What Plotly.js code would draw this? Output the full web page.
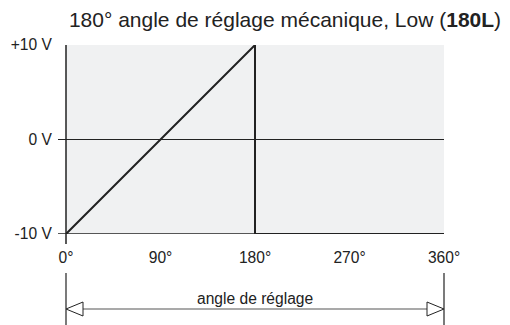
<!DOCTYPE html>
<html>
<head>
<meta charset="utf-8">
<script src="https://cdn.plot.ly/plotly-3.0.1.min.js"></script>
<style>
html, body { margin:0; padding:0; background:#fff; }
#graph { width:510px; height:325px; }
</style>
</head>
<body>
<div id="graph"></div>
<script>
window.onload = function() {

// ---- data ----
const angleDeg = [0, 180, 180, 360];
const voltage = [-10, 10, -10, -10];
const xTickVals = [0, 90, 180, 270, 360];
const xTickText = ['0°', '90°', '180°', '270°', '360°'];
const yTickVals = [-10, 0, 10];
const yTickText = ['-10 V', '0 V', '+10 V'];
const titleText = '180° angle de réglage mécanique, Low (<b>180L</b>)';
const spanLabel = 'angle de réglage';

const FONT = 'Liberation Sans, Arial, Helvetica, sans-serif';
const INK = '#222';
const FS = 15.6;

// plot area in px: left 66, right 444, top 45, bottom 234
const plotW = 378, plotH = 189;
const px = d => d / plotW;      // horizontal px -> paper
const py = d => d / plotH;      // vertical px -> paper

const arrowY = -py(75);        // dimension line
const headL = px(17), headH = py(7);

const shapes = [
  // left axis line, running a bit below the plot
  {type:'line', xref:'paper', yref:'paper', x0:0, x1:0, y0:1, y1:-py(10),
   line:{color:INK, width:1.5}},
  // 0 V and -10 V lines with their little ticks
  {type:'line', xref:'paper', yref:'y', x0:-px(8), x1:1, y0:0, y1:0,
   line:{color:INK, width:1.2}},
  {type:'line', xref:'paper', yref:'y', x0:-px(8), x1:1, y0:-10, y1:-10,
   line:{color:INK, width:1.5}},
  // extension lines for the span arrow
  {type:'line', xref:'paper', yref:'paper', x0:0, x1:0, y0:-py(39), y1:-py(100),
   line:{color:INK, width:1.2}},
  {type:'line', xref:'paper', yref:'paper', x0:1, x1:1, y0:-py(39), y1:-py(100),
   line:{color:INK, width:1.2}},
  // arrow shaft
  {type:'line', xref:'paper', yref:'paper', x0:headL, x1:1-headL, y0:arrowY, y1:arrowY,
   line:{color:'#555', width:1.2}},
  // hollow arrow heads
  {type:'path', xref:'paper', yref:'paper',
   path:`M 0 ${arrowY} L ${headL} ${arrowY+headH} L ${headL} ${arrowY-headH} Z`,
   line:{color:INK, width:1}, fillcolor:'#fff'},
  {type:'path', xref:'paper', yref:'paper',
   path:`M 1 ${arrowY} L ${1-headL} ${arrowY+headH} L ${1-headL} ${arrowY-headH} Z`,
   line:{color:INK, width:1}, fillcolor:'#fff'}
];

const traces = [{
  x: angleDeg, y: voltage, mode:'lines', type:'scatter',
  line:{color:INK, width:2}, hoverinfo:'skip', cliponaxis:false
}];

const layout = {
  width:510, height:325,
  margin:{l:66, r:66, t:45, b:91},
  paper_bgcolor:'#fff', plot_bgcolor:'#f0f1f2',
  showlegend:false,
  font:{family:FONT, size:FS, color:INK},
  title:{text:titleText, font:{family:FONT, size:21, color:INK},
         x:285/510, xanchor:'center', xref:'container',
         y:1-20/325, yanchor:'middle', yref:'container'},
  xaxis:{range:[0,360], tickvals:xTickVals, ticktext:xTickText,
         showgrid:false, zeroline:false, showline:false,
         ticks:'outside', ticklen:9, tickcolor:'rgba(0,0,0,0)',
         tickfont:{size:FS, color:INK}, fixedrange:true},
  yaxis:{range:[-10,10], tickvals:yTickVals, ticktext:yTickText,
         showgrid:false, zeroline:false, showline:false,
         ticks:'outside', ticklen:10, tickcolor:'rgba(0,0,0,0)',
         tickfont:{size:FS, color:INK}, fixedrange:true},
  shapes: shapes,
  annotations:[{text:spanLabel, xref:'paper', yref:'paper', x:0.5, y:-py(64),
                xanchor:'center', yanchor:'middle', showarrow:false,
                font:{size:FS, color:INK}}]
};

Plotly.newPlot('graph', traces, layout, {displayModeBar:false, staticPlot:true});

};
</script>
</body>
</html>
